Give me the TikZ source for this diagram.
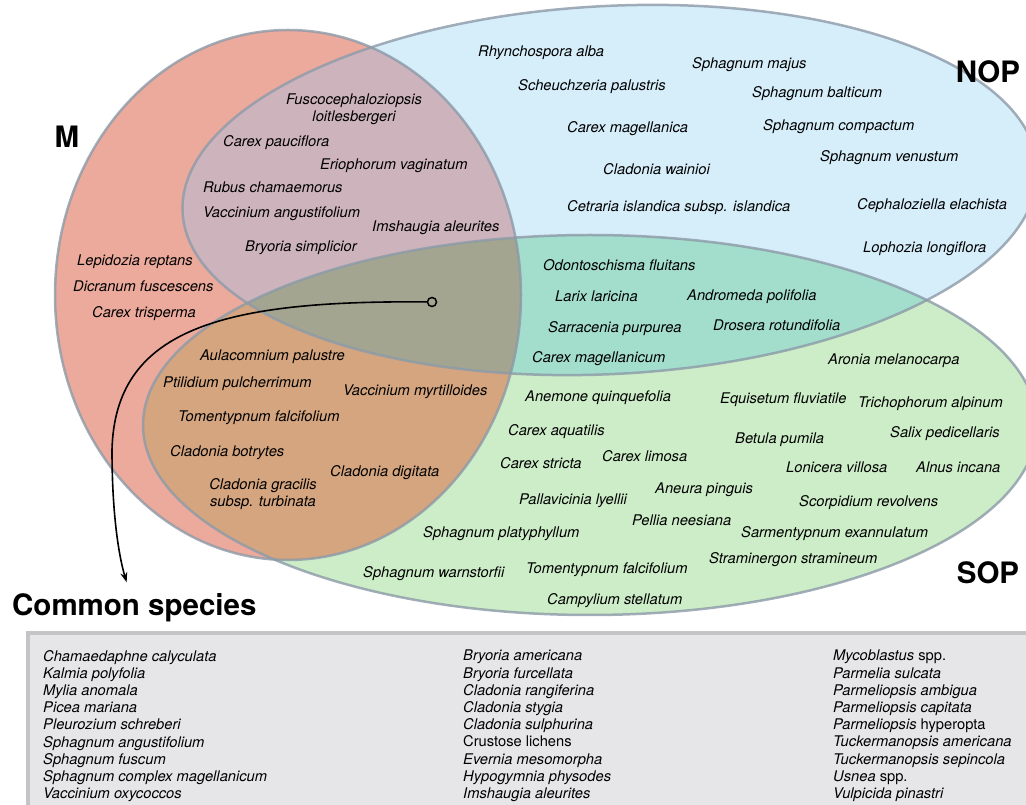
\documentclass[tikz,border=0pt]{standalone}
\usepackage{fontspec}
\setmainfont{TeX Gyre Heros}
\usetikzlibrary{arrows.meta}

\definecolor{mfill}{RGB}{236,170,156}
\definecolor{nfill}{RGB}{214,237,250}
\definecolor{sfill}{RGB}{205,237,200}
\definecolor{mnfill}{RGB}{205,180,188}
\definecolor{msfill}{RGB}{212,165,127}
\definecolor{nsfill}{RGB}{163,222,205}
\definecolor{allfill}{RGB}{163,165,145}
\definecolor{rim}{RGB}{140,154,168}
\definecolor{boxfill}{RGB}{230,230,232}
\definecolor{boxedge}{RGB}{196,196,198}

% the three sets
\def\mset{(288,509) ellipse [x radius=233pt, y radius=265pt]}
\def\nopset{(610,614) ellipse [x radius=428pt, y radius=184pt, rotate=3]}
\def\sopset{(590,379) ellipse [x radius=447pt, y radius=190pt]}

\begin{document}
\begin{tikzpicture}[x=1pt, y=1pt,
  species/.style={font=\itshape\fontsize{14.7}{17}\selectfont, inner sep=0pt, anchor=base west},
  twoline/.style={font=\itshape\fontsize{14.7}{17}\selectfont, inner sep=0pt, align=center},
  setlabel/.style={font=\bfseries\fontsize{29.5}{32}\selectfont, inner sep=0pt},
  rimline/.style={draw=rim, draw opacity=0.8, line width=2.5pt},
  listcol/.style={font=\itshape\fontsize{14.7}{17.2}\selectfont, inner sep=0pt, anchor=north west, align=left}]
\useasboundingbox (0,0) rectangle (1026,804);

% Areas
\fill[mfill] \mset;
\fill[nfill] \nopset;
\fill[sfill] \sopset;
\begin{scope}
\clip \mset;
\fill[mnfill] \nopset;
\fill[msfill] \sopset;
\end{scope}
\begin{scope}
\clip \nopset;
\fill[nsfill] \sopset;
\end{scope}
\begin{scope}
\clip \mset;
\clip \nopset;
\fill[allfill] \sopset;
\end{scope}
\draw[rimline] \mset;
\draw[rimline] \nopset;
\draw[rimline] \sopset;

% Set names
\node[setlabel] (mlab) at (67,667) {M};
\node[setlabel] (noplab) at (988,732) {NOP};
\node[setlabel] (soplab) at (988,231) {SOP};

% M only
\node[species] (m1) at (77,538) {Lepidozia reptans};
\node[species] (m2) at (73,512) {Dicranum fuscescens};
\node[species] (m3) at (92,486) {Carex trisperma};

% M and NOP
\node[twoline] (mn1) at (354,695) {Fuscocephaloziopsis\\loitlesbergeri};
\node[species] (mn2) at (223,657) {Carex pauciflora};
\node[species] (mn3) at (320,634) {Eriophorum vaginatum};
\node[species] (mn4) at (203,611) {Rubus chamaemorus};
\node[species] (mn5) at (203,586) {Vaccinium angustifolium};
\node[species] (mn6) at (372,572) {Imshaugia aleurites};
\node[species] (mn7) at (245,552) {Bryoria simplicior};

% M and SOP
\node[species] (ms1) at (200,443) {Aulacomnium palustre};
\node[species] (ms2) at (163,416) {Ptilidium pulcherrimum};
\node[species] (ms3) at (343,408) {Vaccinium myrtilloides};
\node[species] (ms4) at (178,382) {Tomentypnum falcifolium};
\node[species] (ms5) at (170,347) {Cladonia botrytes};
\node[species] (ms6) at (330,327) {Cladonia digitata};
\node[twoline] (ms7) at (263,310) {Cladonia gracilis\\subsp. turbinata};

% NOP only
\node[species] (n1) at (478,747) {Rhynchospora alba};
\node[species] (n2) at (692,735) {Sphagnum majus};
\node[species] (n3) at (518,713) {Scheuchzeria palustris};
\node[species] (n4) at (752,706) {Sphagnum balticum};
\node[species] (n5) at (567,671) {Carex magellanica};
\node[species] (n6) at (763,673) {Sphagnum compactum};
\node[species] (n7) at (820,642) {Sphagnum venustum};
\node[species] (n8) at (603,629) {Cladonia wainioi};
\node[species] (n9) at (567,592) {Cetraria islandica subsp. islandica};
\node[species] (n10) at (857,594) {Cephaloziella elachista};
\node[species] (n11) at (863,551) {Lophozia longiflora};

% NOP and SOP
\node[species] (ns1) at (543,533) {Odontoschisma fluitans};
\node[species] (ns2) at (555,502) {Larix laricina};
\node[species] (ns3) at (687,503) {Andromeda polifolia};
\node[species] (ns4) at (548,471) {Sarracenia purpurea};
\node[species] (ns5) at (713,473) {Drosera rotundifolia};
\node[species] (ns6) at (532,441) {Carex magellanicum};

% SOP only
\node[species] (s1) at (828,439) {Aronia melanocarpa};
\node[species] (s2) at (525,402) {Anemone quinquefolia};
\node[species] (s3) at (720,400) {Equisetum fluviatile};
\node[species] (s4) at (858,396) {Trichophorum alpinum};
\node[species] (s5) at (508,368) {Carex aquatilis};
\node[species] (s6) at (735,360) {Betula pumila};
\node[species] (s7) at (890,366) {Salix pedicellaris};
\node[species] (s8) at (500,335) {Carex stricta};
\node[species] (s9) at (602,342) {Carex limosa};
\node[species] (s10) at (786,331) {Lonicera villosa};
\node[species] (s11) at (916,331) {Alnus incana};
\node[species] (s12) at (655,310) {Aneura pinguis};
\node[species] (s13) at (519,299) {Pallavicinia lyellii};
\node[species] (s14) at (799,297) {Scorpidium revolvens};
\node[species] (s15) at (632,278) {Pellia neesiana};
\node[species] (s16) at (423,266) {Sphagnum platyphyllum};
\node[species] (s17) at (741,266) {Sarmentypnum exannulatum};
\node[species] (s18) at (709,240) {Straminergon stramineum};
\node[species] (s19) at (363,226) {Sphagnum warnstorfii};
\node[species] (s20) at (526,230) {Tomentypnum falcifolium};
\node[species] (s21) at (547,199) {Campylium stellatum};

% Common species
\node[setlabel, anchor=base west] (common) at (12,188) {Common species};
\fill[boxfill] (28,-20) rectangle (1070,171);
\draw[boxedge, line width=4pt] (28,-20) -- (28,171) -- (1070,171);
\node[listcol] (col1) at (43,154) {Chamaedaphne calyculata\\Kalmia polyfolia\\Mylia anomala\\Picea mariana\\Pleurozium schreberi\\Sphagnum angustifolium\\Sphagnum fuscum\\Sphagnum complex magellanicum\\Vaccinium oxycoccos};
\node[listcol] (col2) at (463,154) {Bryoria americana\\Bryoria furcellata\\Cladonia rangiferina\\Cladonia stygia\\Cladonia sulphurina\\{\upshape Crustose lichens}\\Evernia mesomorpha\\Hypogymnia physodes\\Imshaugia aleurites};
\node[listcol] (col3) at (833,154) {Mycoblastus {\upshape spp.}\\Parmelia sulcata\\Parmeliopsis ambigua\\Parmeliopsis capitata\\Parmeliopsis {\upshape hyperopta}\\Tuckermanopsis americana\\Tuckermanopsis sepincola\\Usnea {\upshape spp.}\\Vulpicida pinastri};

% Arrow to the list
\node[circle, draw, line width=1.5pt, inner sep=0pt, minimum size=9pt] (hub) at (432,502) {};
\draw[line width=1.6pt, -{Stealth[length=10pt, width=7pt]}, shorten >=12pt] (hub) .. controls (220,504) and (115,474) .. (112,354) .. controls (112,284) and (120,244) .. (common);
\end{tikzpicture}
\end{document}
